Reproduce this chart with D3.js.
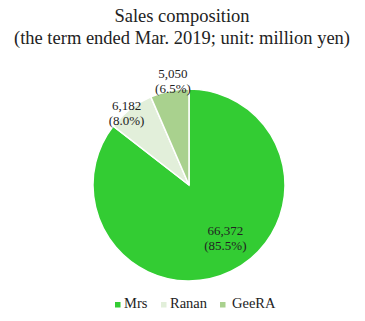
<!DOCTYPE html>
<html>
<head>
<meta charset="utf-8">
<script src="https://cdn.jsdelivr.net/npm/d3@7"></script>
<style>
  body { margin: 0; background: #fff; }
  svg text { font-family: "Times New Roman", "Liberation Serif", Times, serif; fill: #222; }
</style>
</head>
<body>
<div id="chart"></div>
<script>
const width = 365;
const height = 321;

// data
const segments = ["Mrs", "Ranan", "GeeRA"];
const sales = [66372, 6182, 5050];
const colors = ["#33cc33", "#e2efda", "#a9d18e"];

const total = d3.sum(sales);
const fmt = d3.format(",");

const svg = d3.select("#chart")
  .append("svg")
  .attr("width", width)
  .attr("height", height);

// title
svg.append("text")
  .attr("x", 182)
  .attr("y", 22)
  .attr("text-anchor", "middle")
  .style("font-size", "18.5px")
  .text("Sales composition");

svg.append("text")
  .attr("x", 182)
  .attr("y", 44)
  .attr("text-anchor", "middle")
  .style("font-size", "18.5px")
  .text("(the term ended Mar. 2019; unit: million yen)");

const cx = 189, cy = 185, r = 96;

const pie = d3.pie().sort(null).value(d => d);
const arcs = pie(sales);

const arc = d3.arc().innerRadius(0).outerRadius(r);

const g = svg.append("g").attr("transform", `translate(${cx},${cy})`);

g.selectAll("path")
  .data(arcs)
  .enter()
  .append("path")
  .attr("d", arc)
  .attr("fill", (d, i) => colors[i])
  .attr("stroke", "#fff")
  .attr("stroke-width", 1.5);

// labels: inside for the big slice, just outside for the small ones
const innerLabel = d3.arc().innerRadius(r * 0.72).outerRadius(r * 0.72);
const outerLabel = d3.arc().innerRadius(r * 1.08).outerRadius(r * 1.08);
// small nudges so labels sit where Excel put them
const nudges = [[6, -9], [1, 10], [5, -2.5]];

const label = g.selectAll("g.label")
  .data(arcs)
  .enter()
  .append("g")
  .attr("class", "label")
  .attr("transform", d => {
    const big = (d.endAngle - d.startAngle) > Math.PI;
    const p = big ? innerLabel.centroid(d) : outerLabel.centroid(d);
    const n = nudges[d.index];
    return `translate(${p[0] + n[0]},${p[1] + n[1]})`;
  });

label.append("text")
  .attr("text-anchor", "middle")
  .attr("y", -3)
  .style("font-size", "13px")
  .text(d => fmt(d.data));

label.append("text")
  .attr("text-anchor", "middle")
  .attr("y", 12)
  .style("font-size", "13px")
  .text(d => `(${(d.data / total * 100).toFixed(1)}%)`);

// legend
const legendOffsets = [0, 46, 105];
const textOffsets = [9, 9, 12];

const legend = svg.append("g")
  .selectAll("g")
  .data(segments)
  .enter()
  .append("g")
  .attr("transform", (d, i) => `translate(${115 + legendOffsets[i]},${308})`);

legend.append("rect")
  .attr("x", 0)
  .attr("y", -6)
  .attr("width", 5.5)
  .attr("height", 5.5)
  .attr("fill", (d, i) => colors[i]);

legend.append("text")
  .attr("x", (d, i) => textOffsets[i])
  .attr("y", 0)
  .style("font-size", "14.5px")
  .text(d => d);
</script>
</body>
</html>
